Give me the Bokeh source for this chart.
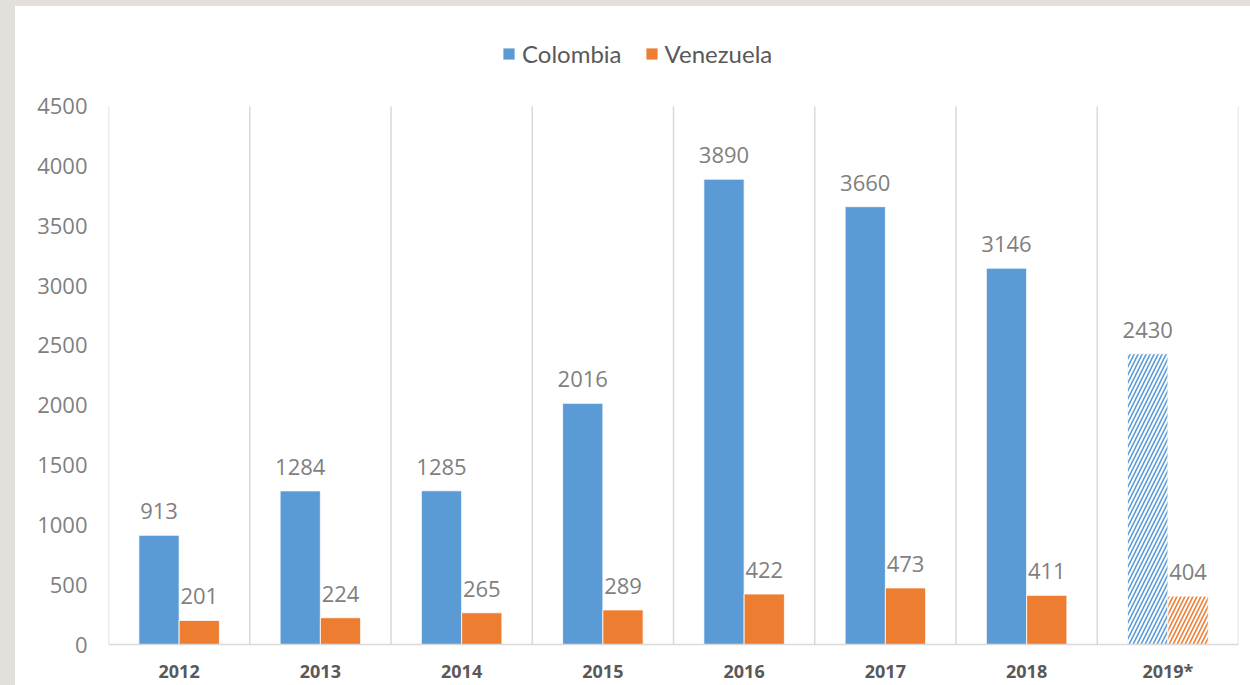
from bokeh.plotting import figure
from bokeh.models import ColumnDataSource, Range1d, FixedTicker, Legend, LegendItem, Div
from bokeh.layouts import row, column
from bokeh.transform import dodge
from bokeh.core.properties import value
from bokeh.embed import file_html
from bokeh.resources import INLINE

years = ["2012", "2013", "2014", "2015", "2016", "2017", "2018", "2019*"]
colombia = [913, 1284, 1285, 2016, 3890, 3660, 3146, 2430]
venezuela = [201, 224, 265, 289, 422, 473, 411, 404]
hatches = [" ", " ", " ", " ", " ", " ", " ", "/"]
y_ticks = [0, 500, 1000, 1500, 2000, 2500, 3000, 3500, 4000, 4500]

BLUE = "#5B9BD5"
ORANGE = "#ED7D31"
GRID = "#d9d9d9"
BEIGE = "#e3dfda"

src = ColumnDataSource(dict(
    years=years, colombia=colombia, venezuela=venezuela, hatch=hatches,
    col_lbl=[str(v) for v in colombia], ven_lbl=[str(v) for v in venezuela],
    top=[4500] * len(years), zero=[0] * len(years),
))

p = figure(width=1235, height=679, x_range=years, y_range=Range1d(0, 5300),
           output_backend="svg", toolbar_location=None,
           min_border_left=93, min_border_right=12, min_border_top=4, min_border_bottom=40)
p.x_range.range_padding = 0
p.outline_line_color = None
p.background_fill_color = "white"
p.border_fill_color = "white"
p.xgrid.grid_line_color = None
p.ygrid.grid_line_color = None

# category separators
p.segment(x0=dodge("years", -0.5, range=p.x_range), x1=dodge("years", -0.5, range=p.x_range),
          y0="zero", y1="top", source=src, line_color=GRID, line_width=1.5)
last = ColumnDataSource(dict(years=[years[-1]], zero=[0], top=[4500]))
p.segment(x0=dodge("years", 0.5, range=p.x_range), x1=dodge("years", 0.5, range=p.x_range),
          y0="zero", y1="top", source=last, line_color=GRID, line_width=1.5)

w = 0.285
r1 = p.vbar(x=dodge("years", -w / 2, range=p.x_range), top="colombia", width=w, source=src,
            fill_color=BLUE, line_color="white", line_width=0.8,
            hatch_pattern="hatch", hatch_color="white", hatch_weight=2, hatch_scale=8)
r2 = p.vbar(x=dodge("years", w / 2, range=p.x_range), top="venezuela", width=w, source=src,
            fill_color=ORANGE, line_color="white", line_width=0.8,
            hatch_pattern="hatch", hatch_color="white", hatch_weight=2, hatch_scale=8)

lbl_font = value("Open Sans")
p.text(x=dodge("years", -w / 2, range=p.x_range), y="colombia", text="col_lbl", source=src,
       text_align="center", text_baseline="alphabetic", y_offset=-24,
       text_font=lbl_font, text_font_size="22px", text_color="#7f7f7f")
p.text(x=dodge("years", w / 2, range=p.x_range), y="venezuela", text="ven_lbl", source=src,
       text_align="center", text_baseline="alphabetic", y_offset=-24,
       text_font=lbl_font, text_font_size="22px", text_color="#7f7f7f")

# axes
p.yaxis.ticker = FixedTicker(ticks=y_ticks)
p.yaxis.axis_line_color = None
p.yaxis.major_tick_line_color = None
p.yaxis.minor_tick_line_color = None
p.yaxis.major_label_standoff = 15
p.yaxis.major_label_text_font = "Open Sans"
p.yaxis.major_label_text_font_size = "22px"
p.yaxis.major_label_text_color = "#7f7f7f"

p.xaxis.axis_line_color = GRID
p.xaxis.axis_line_width = 1.5
p.xaxis.major_tick_line_color = None
p.xaxis.minor_tick_line_color = None
p.xaxis.major_label_standoff = 8
p.xaxis.major_label_text_font = "Open Sans"
p.xaxis.major_label_text_font_style = "bold"
p.xaxis.major_label_text_font_size = "18px"
p.xaxis.major_label_text_color = "#595959"

legend = Legend(items=[LegendItem(label="Colombia", renderers=[r1]),
                       LegendItem(label="Venezuela", renderers=[r2])],
                orientation="horizontal", location=(393, 576),
                glyph_width=15, glyph_height=15, label_standoff=6, spacing=22,
                padding=0, margin=0, border_line_color=None, background_fill_alpha=0,
                label_text_font="Lato", label_text_font_size="24px", label_text_color="#595959")
p.add_layout(legend)

top_strip = Div(text="", width=1250, height=6, margin=0,
                styles={"background-color": BEIGE})
left_strip = Div(text="", width=15, height=679, margin=0,
                 styles={"background-color": BEIGE})
layout = column(top_strip, row(left_strip, p, spacing=0), spacing=0)

open("out.html", "w").write(file_html(layout, INLINE))
